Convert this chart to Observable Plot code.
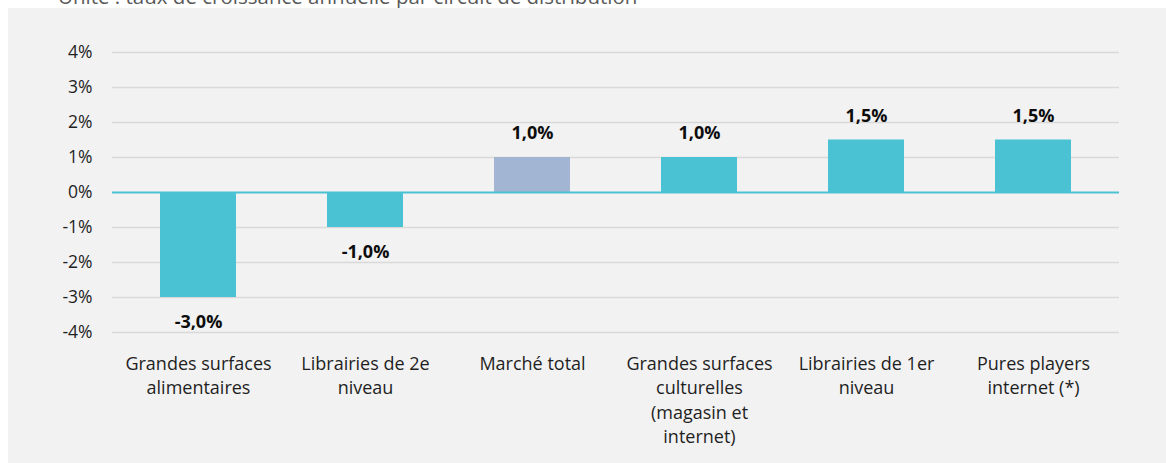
<!DOCTYPE html>
<html>
<head>
<meta charset="utf-8">
<script src="https://cdn.jsdelivr.net/npm/d3@7"></script>
<script src="https://cdn.jsdelivr.net/npm/@observablehq/plot@0.6"></script>
<style>
  html, body { margin: 0; padding: 0; background: #ffffff; width: 1166px; height: 463px; overflow: hidden; position: relative; font-family: "Open Sans", sans-serif; }
  #caption { position: absolute; left: 58px; top: -16px; font-size: 20.5px; line-height: 24px; color: #595959; white-space: nowrap; }
  #panel { position: absolute; left: 8px; top: 8px; width: 1158px; height: 455px; background: #f2f2f2; }
  #panel svg { display: block; background: transparent; }
</style>
</head>
<body>
<div id="caption">Unité : taux de croissance annuelle par circuit de distribution</div>
<div id="panel"></div>
<script>
const categories = [
  "Grandes surfaces alimentaires",
  "Librairies de 2e niveau",
  "Marché total",
  "Grandes surfaces culturelles (magasin et internet)",
  "Librairies de 1er niveau",
  "Pures players internet (*)"
];
const axisLabels = [
  "Grandes surfaces\nalimentaires",
  "Librairies de 2e\nniveau",
  "Marché total",
  "Grandes surfaces\nculturelles\n(magasin et\ninternet)",
  "Librairies de 1er\nniveau",
  "Pures players\ninternet (*)"
];
const values = [-3.0, -1.0, 1.0, 1.0, 1.5, 1.5];
const valueLabels = ["-3,0%", "-1,0%", "1,0%", "1,0%", "1,5%", "1,5%"];
const yTicks = [-4, -3, -2, -1, 0, 1, 2, 3, 4];
const totalCategory = "Marché total";

const data = categories.map((c, i) => ({ cat: c, value: values[i], label: valueLabels[i] }));
const labelOf = new Map(categories.map((c, i) => [c, axisLabels[i]]));

const chart = Plot.plot({
  width: 1158,
  height: 455,
  marginTop: 44,
  marginBottom: 131,
  marginLeft: 104,
  marginRight: 47,
  style: { background: "transparent", fontFamily: "'Open Sans', sans-serif" },
  x: { domain: categories, paddingInner: 0.547, paddingOuter: 0.2735, align: 0.5, label: null },
  y: { domain: [-4, 4], label: null },
  marks: [
    Plot.ruleY(yTicks.filter(t => t !== 0), { stroke: "#d9d9d9", strokeWidth: 1.3 }),
    Plot.barY(data, {
      x: "cat", y: "value",
      fill: d => d.cat === totalCategory ? "#a2b5d3" : "#4bc1d4"
    }),
    Plot.ruleY([0], { stroke: "#4bc1d4", strokeWidth: 2 }),
    Plot.axisY({
      ticks: yTicks, tickSize: 0, tickPadding: 20,
      tickFormat: d => d + "%", fontSize: 17.5, fill: "#1f1f1f"
    }),
    Plot.axisX({
      tickSize: 0, tickPadding: 20, fontSize: 18, fill: "#1f1f1f",
      tickFormat: c => labelOf.get(c), lineHeight: 1.36, lineAnchor: "top"
    }),
    Plot.text(data.filter(d => d.value >= 0), {
      x: "cat", y: "value", text: "label", dy: -24,
      fontSize: 18, fontWeight: "bold", fill: "#0d0d0d", lineAnchor: "middle"
    }),
    Plot.text(data.filter(d => d.value < 0), {
      x: "cat", y: "value", text: "label", dy: 25,
      fontSize: 18, fontWeight: "bold", fill: "#0d0d0d", lineAnchor: "middle"
    })
  ]
});
document.getElementById("panel").appendChild(chart);
</script>
</body>
</html>
